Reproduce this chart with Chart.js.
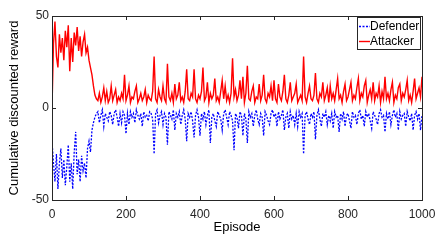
<!DOCTYPE html>
<html>
<head>
<meta charset="utf-8">
<script src="https://cdn.jsdelivr.net/npm/chart.js@4"></script>
<style>
  html, body { margin: 0; padding: 0; background: #fff; }
  #wrap { width: 444px; height: 244px; position: relative; }
</style>
</head>
<body>
<div id="wrap"><canvas id="rewardChart"></canvas></div>
<script>
// episodes are sampled every 4 steps, 0..1000
const episodeStep = 4;
const xTicks = [0, 200, 400, 600, 800, 1000];
const yTicks = [-50, 0, 50];
const seriesNames = ['Defender', 'Attacker'];

const attacker = [
  0, 35, 47, 28, 22, 40, 30, 38, 26, 42, 33, 45, 20, 38, 25, 41, 34, 44, 31, 39, 28, 36, 40, 30, 33,
  26, 22, 18, 12, 7, 5, 4, 8, 3, 6, 11, 4, 9, 3, 5, 12, 4, 7, 10, 3, 6, 4, 8, 5, 18,
  4, 7, 12, 3, 6, 5, 9, 12, 3, 5, 8, 4, 6, 10, 3, 7, 5, 4, 9, 28, 5, 3, 10, 6, 4,
  12, 5, 3, 24, 6, 4, 8, 3, 13, 5, 7, 14, 4, 6, 3, 9, 21, 5, 4, 8, 6, 21, 5, 3, 7,
  5, 9, 22, 4, 6, 14, 3, 8, 5, 7, 16, 4, 6, 3, 9, 15, 5, 12, 4, 7, 3, 8, 27, 6, 10,
  4, 7, 15, 5, 17, 3, 8, 23, 5, 4, 9, 12, 3, 6, 5, 13, 4, 7, 18, 5, 3, 8, 6, 12, 4,
  15, 5, 3, 13, 6, 4, 9, 18, 5, 3, 7, 14, 4, 6, 8, 13, 3, 5, 7, 4, 28, 6, 3, 8, 12,
  5, 4, 7, 19, 5, 3, 8, 6, 14, 4, 7, 11, 3, 12, 5, 8, 4, 10, 16, 5, 7, 3, 9, 13, 4,
  6, 10, 14, 4, 7, 5, 11, 16, 4, 8, 6, 12, 15, 3, 7, 10, 5, 14, 4, 8, 6, 12, 3, 9, 5,
  17, 5, 8, 4, 10, 14, 3, 7, 5, 11, 13, 4, 8, 6, 10, 15, 4, 7, 3, 9, 16, 5, 8, 11, 6,
  17
];

const defender = [
  -18, -30, -40, -25, -44, -30, -22, -38, -28, -42, -32, -20, -40, -30, -44, -24, -13, -36, -28, -40, -26, -34, -30, -38, -22,
  -18, -24, -12, -8, -5, -3, -2, -8, -4, -1, -10, -3, -5, -7, -2, -4, -9, -3, -1, -5, -10, -3, -8, -2, -4,
  -14, -3, -9, -2, -5, -3, -8, -1, -4, -6, -3, -10, -2, -5, -4, -7, -2, -3, -6, -25, -3, -1, -8, -4, -2,
  -9, -3, -5, -20, -2, -4, -6, -1, -12, -3, -5, -2, -9, -4, -1, -6, -18, -3, -5, -2, -7, -16, -4, -1, -5,
  -15, -3, -6, -2, -9, -4, -1, -19, -5, -3, -7, -10, -2, -4, -6, -12, -3, -1, -5, -9, -2, -4, -7, -23, -3,
  -5, -11, -2, -4, -15, -3, -6, -19, -2, -5, -3, -10, -4, -1, -6, -9, -3, -5, -15, -2, -4, -7, -9, -3, -1,
  -5, -3, -10, -2, -6, -4, -1, -12, -5, -3, -11, -2, -6, -4, -9, -3, -10, -2, -5, -3, -25, -4, -2, -6, -9,
  -3, -5, -2, -17, -4, -1, -6, -10, -3, -5, -2, -9, -4, -7, -3, -11, -2, -5, -4, -13, -3, -6, -2, -10, -4,
  -3, -7, -11, -2, -5, -4, -9, -3, -1, -6, -4, -10, -2, -5, -3, -7, -11, -2, -4, -6, -9, -3, -1, -5, -4,
  -13, -3, -6, -2, -9, -4, -1, -5, -3, -12, -2, -6, -4, -3, -10, -2, -5, -7, -3, -12, -4, -2, -6, -3, -12,
  -4
];

const episodes = attacker.map((v, i) => i * episodeStep);
const textColor = '#262626';
const fontFamily = '"Liberation Sans", Arial, sans-serif';

// MATLAB style frame with inward ticks on all four sides
const frameTicks = {
  id: 'frameTicks',
  afterDraw(chart) {
    const ctx = chart.ctx;
    const {left, right, top, bottom} = chart.chartArea;
    const len = 4;
    ctx.save();
    ctx.strokeStyle = textColor;
    ctx.lineWidth = 1;
    ctx.beginPath();
    xTicks.forEach(v => {
      const px = Math.round(chart.scales.x.getPixelForValue(v)) + 0.5;
      ctx.moveTo(px, bottom); ctx.lineTo(px, bottom - len);
      ctx.moveTo(px, top); ctx.lineTo(px, top + len);
    });
    yTicks.forEach(v => {
      const py = Math.round(chart.scales.y.getPixelForValue(v)) + 0.5;
      ctx.moveTo(left, py); ctx.lineTo(left + len, py);
      ctx.moveTo(right, py); ctx.lineTo(right - len, py);
    });
    ctx.stroke();
    ctx.strokeRect(Math.round(left) + 0.5, Math.round(top) + 0.5, Math.round(right - left), Math.round(bottom - top));
    ctx.restore();
  }
};

// legend box in the upper right corner of the axes
const legendBox = {
  id: 'legendBox',
  afterDraw(chart) {
    const ctx = chart.ctx;
    const {right, top} = chart.chartArea;
    const x = Math.round(right) - 65, y = Math.round(top) + 1, w = 63, h = 32;
    ctx.save();
    ctx.fillStyle = '#fff';
    ctx.fillRect(x, y, w, h);
    ctx.strokeStyle = textColor;
    ctx.lineWidth = 1;
    ctx.strokeRect(x + 0.5, y + 0.5, w, h);
    ctx.font = '12px ' + fontFamily;
    ctx.textBaseline = 'middle';
    chart.data.datasets.forEach((ds, i) => {
      const cy = y + 9.5 + i * 15;
      ctx.strokeStyle = ds.borderColor;
      ctx.lineWidth = ds.borderWidth;
      ctx.setLineDash(ds.borderDash || []);
      ctx.beginPath();
      ctx.moveTo(x + 2, cy);
      ctx.lineTo(x + 13, cy);
      ctx.stroke();
      ctx.setLineDash([]);
      ctx.fillStyle = '#000';
      ctx.fillText(ds.label, x + 13, cy);
    });
    ctx.restore();
  }
};

new Chart(document.getElementById('rewardChart'), {
  type: 'line',
  data: {
    labels: episodes,
    datasets: [
      {
        label: seriesNames[0],
        data: defender,
        borderColor: '#0000ff',
        borderWidth: 1.3,
        borderDash: [2, 1.5],
        pointRadius: 0,
        tension: 0,
        fill: false
      },
      {
        label: seriesNames[1],
        data: attacker,
        borderColor: '#ff0000',
        borderWidth: 1.4,
        pointRadius: 0,
        tension: 0,
        fill: false
      }
    ]
  },
  options: {
    responsive: true,
    maintainAspectRatio: false,
    animation: false,
    layout: { padding: { left: 0, right: 22, top: 16, bottom: 0 } },
    plugins: {
      legend: { display: false },
      tooltip: { enabled: false }
    },
    scales: {
      x: {
        type: 'linear',
        min: 0,
        max: 1000,
        grid: { display: false, drawTicks: false },
        border: { display: false },
        afterBuildTicks: scale => { scale.ticks = xTicks.map(v => ({ value: v })); },
        afterFit: scale => { scale.height = 44; },
        ticks: {
          color: textColor,
          padding: 7,
          maxRotation: 0,
          callback: v => String(v),
          font: { family: fontFamily, size: 12 }
        },
        title: {
          display: true,
          text: 'Episode',
          color: '#000',
          padding: { top: 0, bottom: 9 },
          font: { family: fontFamily, size: 13 }
        }
      },
      y: {
        min: -50,
        max: 50,
        grid: { display: false, drawTicks: false },
        border: { display: false },
        afterBuildTicks: scale => { scale.ticks = yTicks.map(v => ({ value: v })); },
        afterFit: scale => { scale.width = 52; },
        ticks: {
          color: textColor,
          padding: 3,
          callback: v => String(v),
          font: { family: fontFamily, size: 12 }
        },
        title: {
          display: true,
          text: 'Cumulative discounted reward',
          color: '#000',
          padding: { top: 7, bottom: 0 },
          font: { family: fontFamily, size: 13 }
        }
      }
    }
  },
  plugins: [frameTicks, legendBox]
});
</script>
</body>
</html>
